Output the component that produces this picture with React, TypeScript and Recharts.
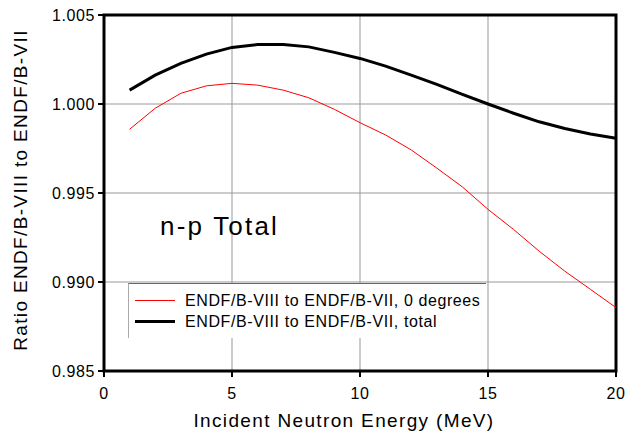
import { CartesianGrid, Label, Line, LineChart, ReferenceArea, XAxis, YAxis } from 'recharts';

const energies = [1, 2, 3, 4, 5, 6, 7, 8, 9, 10, 11, 12, 13, 14, 15, 16, 17, 18, 19, 20];
const ratioZeroDeg = [
  0.99858, 0.99976, 1.0006, 1.00102, 1.00116, 1.00106, 1.00078, 1.00035, 0.9997, 0.99895,
  0.99826, 0.99742, 0.9964, 0.99534, 0.99408, 0.99295, 0.99173, 0.99061, 0.98959, 0.98856,
];
const ratioTotal = [
  1.00078, 1.00162, 1.00228, 1.0028, 1.00318, 1.00334, 1.00334, 1.00321, 1.0029, 1.00256,
  1.00213, 1.00162, 1.0011, 1.00054, 1.0, 0.99948, 0.999, 0.99862, 0.99832, 0.99808,
];
const xTicks = [0, 5, 10, 15, 20];
const yTicks = [0.985, 0.99, 0.995, 1.0, 1.005];
const seriesNames = ['ENDF/B-VIII to ENDF/B-VII, 0 degrees', 'ENDF/B-VIII to ENDF/B-VII, total'];

const data = energies.map((e, i) => ({ e, zero: ratioZeroDeg[i], total: ratioTotal[i] }));

const font = 'Liberation Sans, Arial, Helvetica, sans-serif';

// legend drawn as an overlay so the chart doesn't reserve room for it
function LegendBox() {
  return (
    <div
      style={{
        position: 'absolute',
        left: 128,
        top: 283,
        background: '#fff',
        borderTop: '1px solid #666',
        borderLeft: '1px solid #aaa',
        width: 358,
        height: 55,
        fontFamily: font,
        fontSize: 16,
        letterSpacing: 0.6,
        color: '#000',
        paddingTop: 6,
        boxSizing: 'border-box',
      }}
    >
      {[
        { name: seriesNames[0], color: '#ff0000', w: 1 },
        { name: seriesNames[1], color: '#000', w: 3 },
      ].map((s) => (
        <div key={s.name} style={{ display: 'flex', alignItems: 'center', height: 21 }}>
          <div style={{ marginLeft: 6, width: 40, height: s.w, background: s.color }} />
          <span style={{ marginLeft: 10 }}>{s.name}</span>
        </div>
      ))}
    </div>
  );
}

const tickStyle = { fontSize: 16, fill: '#000', fontFamily: font, letterSpacing: 0.6 };
const titleStyle = { fontSize: 19, fill: '#000', fontFamily: font, letterSpacing: 1.35 };

export default function App() {
  return (
    <div style={{ position: 'absolute', left: 0, top: 0, width: 627, height: 433, background: '#fff' }}>
      <LineChart width={627} height={433} data={data} margin={{ top: 15, right: 11, bottom: 0, left: 0 }}>
        <CartesianGrid stroke="#999" strokeWidth={1} strokeOpacity={1} fill="none" />
        <XAxis
          dataKey="e"
          type="number"
          domain={[0, 20]}
          ticks={xTicks}
          tickSize={6}
          tickMargin={11}
          tick={tickStyle}
          tickLine={{ stroke: '#000', strokeWidth: 2 }}
          axisLine={false}
          height={62}
        >
          <Label
            content={() => (
              <text x={344} y={427} textAnchor="middle" style={titleStyle}>
                Incident Neutron Energy (MeV)
              </text>
            )}
          />
        </XAxis>
        <YAxis
          type="number"
          domain={[0.985, 1.005]}
          ticks={yTicks}
          tickFormatter={(v: number) => v.toFixed(3)}
          tickSize={6}
          tickMargin={3}
          tick={tickStyle}
          tickLine={{ stroke: '#000', strokeWidth: 2 }}
          axisLine={false}
          width={104}
        >
          <Label
            content={() => (
              <text x={27} y={190} transform="rotate(-90 27 190)" textAnchor="middle" style={titleStyle}>
                Ratio ENDF/B-VIII to ENDF/B-VII
              </text>
            )}
          />
        </YAxis>
        <ReferenceArea x1={0} x2={20} y1={0.985} y2={1.005} fill="none" stroke="#000" strokeWidth={3} ifOverflow="visible" />
        <Line dataKey="zero" name={seriesNames[0]} stroke="#ff0000" strokeWidth={1} dot={false} type="linear" isAnimationActive={false} />
        <Line dataKey="total" name={seriesNames[1]} stroke="#000" strokeWidth={3} dot={false} type="linear" isAnimationActive={false} />
      </LineChart>
      <LegendBox />
      <div style={{ position: 'absolute', left: 160, top: 211, fontFamily: font, fontSize: 26, letterSpacing: 2.2, color: '#000' }}>n-p Total</div>
    </div>
  );
}
